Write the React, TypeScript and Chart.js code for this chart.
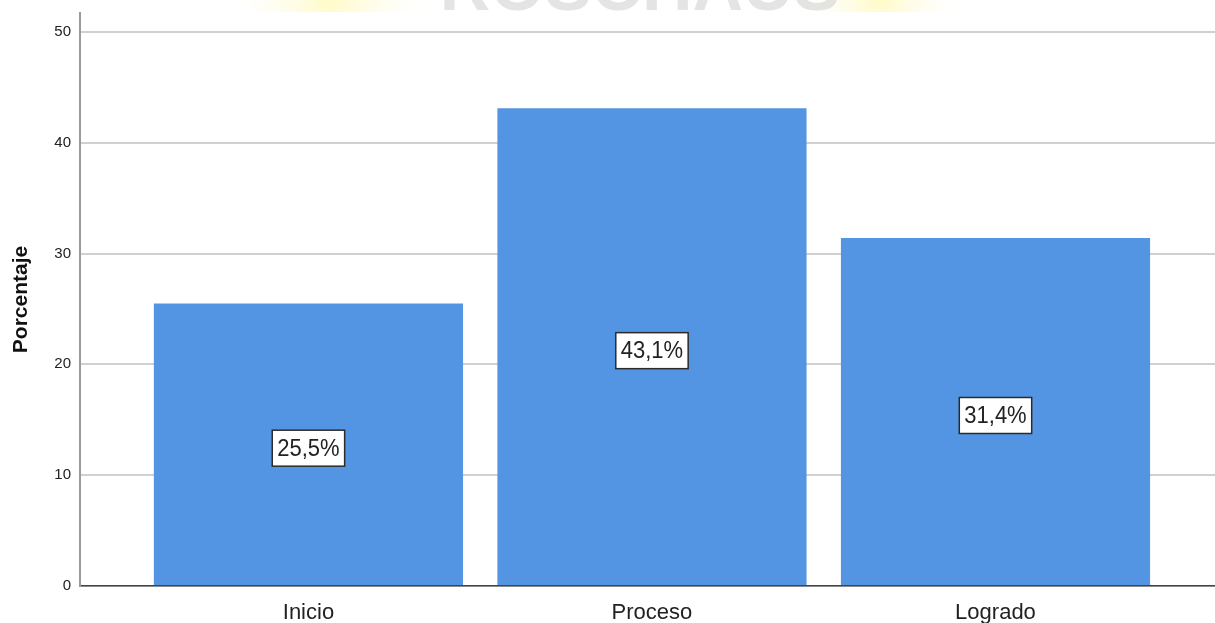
import React, { useEffect, useRef } from "react";
import { Chart, registerables } from "chart.js";

Chart.register(...registerables);

const categories = ["Inicio", "Proceso", "Logrado"];
const percentValues = [25.5, 43.1, 31.4];
const yTickValues = [0, 10, 20, 30, 40, 50];
const yAxisTitle = "Porcentaje";

const barColor = "#5495e3";

const watermarkPlugin = {
  id: "watermark",
  beforeDraw(chart: any) {
    const ctx = chart.ctx;
    ctx.save();
    ctx.beginPath();
    ctx.rect(0, 0, chart.width, 12);
    ctx.clip();
    const g1 = ctx.createRadialGradient(330, 0, 5, 330, 0, 110);
    g1.addColorStop(0, "rgba(255,250,190,0.8)");
    g1.addColorStop(1, "rgba(255,255,255,0)");
    ctx.fillStyle = g1;
    ctx.fillRect(200, 0, 260, 12);
    const g2 = ctx.createRadialGradient(880, 0, 5, 880, 0, 90);
    g2.addColorStop(0, "rgba(255,250,190,0.8)");
    g2.addColorStop(1, "rgba(255,255,255,0)");
    ctx.fillStyle = g2;
    ctx.fillRect(780, 0, 220, 12);
    ctx.fillStyle = "rgba(205,205,205,0.55)";
    ctx.font = "bold 70px 'Liberation Sans', Arial, sans-serif";
    ctx.textAlign = "center";
    ctx.textBaseline = "alphabetic";
    ctx.fillText("ROSCHAUS", 640, 10);
    ctx.restore();
  },
};

const labelPlugin = {
  id: "boxLabels",
  afterDatasetsDraw(chart: any) {
    const ctx = chart.ctx;
    const meta = chart.getDatasetMeta(0);
    ctx.save();
    ctx.font = "22px 'Liberation Sans', Arial, sans-serif";
    ctx.textAlign = "center";
    ctx.textBaseline = "middle";
    meta.data.forEach((el: any, i: number) => {
      const text = percentValues[i].toFixed(1).replace(".", ",") + "%";
      const cx = el.x;
      const cy = (el.y + el.base) / 2 + 4;
      const w = ctx.measureText(text).width + 10;
      const h = 36;
      ctx.fillStyle = "#ffffff";
      ctx.fillRect(cx - w / 2, cy - h / 2, w, h);
      ctx.strokeStyle = "#2b2b2b";
      ctx.lineWidth = 1.5;
      ctx.strokeRect(cx - w / 2, cy - h / 2, w, h);
      ctx.fillStyle = "#222222";
      ctx.save();
      ctx.translate(cx, cy + 1);
      ctx.scale(1, 1.1);
      ctx.fillText(text, 0, 0);
      ctx.restore();
    });
    ctx.restore();
  },
};

export default function App() {
  const canvasRef = useRef<HTMLCanvasElement | null>(null);

  useEffect(() => {
    document.body.style.margin = "0";
    const canvas = canvasRef.current;
    if (!canvas) return;
    const chart = new Chart(canvas, {
      type: "bar",
      data: {
        datasets: [
          {
            data: categories.map((_, i) => ({ x: i, y: percentValues[i] })),
            backgroundColor: barColor,
            borderWidth: 0,
            barPercentage: 0.9,
            categoryPercentage: 1,
          },
        ],
      },
      options: {
        animation: false,
        responsive: false,
        maintainAspectRatio: false,
        layout: { padding: { top: 13, right: 0, bottom: 0, left: 0 } },
        plugins: {
          legend: { display: false },
          tooltip: { enabled: false },
        },
        scales: {
          x: {
            type: "linear",
            offset: false,
            min: -0.665,
            max: 2.639,
            afterBuildTicks: (scale: any) => {
              scale.ticks = categories.map((_, i) => ({ value: i }));
            },
            afterFit: (scale: any) => {
              scale.height = 37;
              scale.paddingLeft = 0;
              scale.paddingRight = 0;
            },
            ticks: {
              callback: (v: any) => categories[Math.round(Number(v))] ?? "",
              color: "#222222",
              font: { size: 22, family: "'Liberation Sans', Arial, sans-serif" },
              padding: 6,
              maxRotation: 0,
            },
            grid: { display: false },
            border: { display: true, color: "#444444", width: 1.5 },
          },
          y: {
            min: 0,
            max: 51.7,
            afterBuildTicks: (scale: any) => {
              scale.ticks = yTickValues.map((v) => ({ value: v }));
            },
            afterFit: (scale: any) => {
              scale.width = 80;
              scale.paddingTop = 0;
              scale.paddingBottom = 0;
            },
            ticks: {
              color: "#222222",
              font: { size: 15, family: "'Liberation Sans', Arial, sans-serif" },
              padding: 9,
            },
            grid: {
              color: "#d0d0d0",
              lineWidth: 2,
              drawTicks: false,
            },
            border: { display: true, color: "#9a9a9a", width: 2 },
            title: {
              display: true,
              text: yAxisTitle,
              color: "#111111",
              font: { size: 21, weight: "bold", family: "'Liberation Sans', Arial, sans-serif" },
              padding: { top: 9, bottom: 0 },
            },
          },
        },
      },
      plugins: [watermarkPlugin, labelPlugin],
    } as any);
    return () => chart.destroy();
  }, []);

  return (
    <div style={{ position: "absolute", left: 0, top: 0, width: 1215, height: 623, background: "#fff" }}>
      <canvas ref={canvasRef} width={1215} height={623} style={{ width: 1215, height: 623 }} />
    </div>
  );
}
